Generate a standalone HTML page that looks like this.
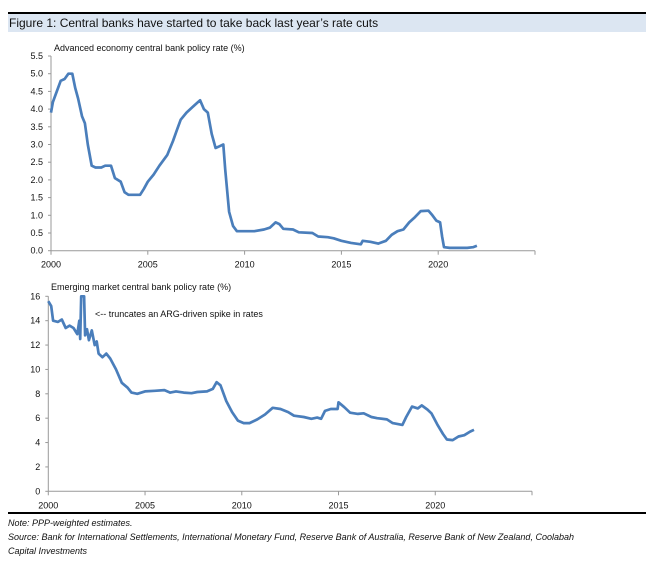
<!DOCTYPE html>
<html><head><meta charset="utf-8"><style>
body{margin:0;background:#fff;width:646px;height:575px;overflow:hidden;font-family:"Liberation Sans",sans-serif}
svg{position:absolute;left:0;top:0}
</style></head><body>
<svg id="c" width="646" height="575">
<line x1="8" y1="13" x2="646" y2="13" stroke="#000" stroke-width="2"/>
<rect x="8" y="14" width="638" height="18" fill="#dce6f2"/>
<text x="9" y="27" font-size="12" fill="#111">Figure 1: Central banks have started to take back last year’s rate cuts</text>
<text x="54" y="51" font-size="9" fill="#111">Advanced economy central bank policy rate (%)</text>
<text x="51" y="290" font-size="9" fill="#111">Emerging market central bank policy rate (%)</text>
<text x="95" y="317" font-size="9" fill="#111">&lt;-- truncates an ARG-driven spike in rates</text>
<line x1="8" y1="513" x2="646" y2="513" stroke="#000" stroke-width="2"/>
<text x="8" y="526" font-size="9" font-style="italic" fill="#111">Note: PPP-weighted estimates.</text>
<text x="8" y="540" font-size="9" font-style="italic" fill="#111">Source: Bank for International Settlements, International Monetary Fund, Reserve Bank of Australia, Reserve Bank of New Zealand, Coolabah</text>
<text x="8" y="554" font-size="9" font-style="italic" fill="#111">Capital Investments</text>
</svg>
<script>
const aeYears=[2000,2000.1,2000.3,2000.5,2000.7,2000.9,2001.1,2001.25,2001.4,2001.6,2001.75,2001.9,2002.1,2002.3,2002.6,2002.8,2003.1,2003.3,2003.6,2003.8,2004,2004.4,2004.6,2004.8,2005,2005.3,2005.6,2006,2006.3,2006.5,2006.7,2007,2007.3,2007.6,2007.7,2007.9,2008.1,2008.3,2008.5,2008.7,2008.9,2009,2009.2,2009.4,2009.6,2010,2010.5,2011,2011.3,2011.6,2011.8,2012,2012.5,2012.8,2013.5,2013.8,2014.3,2014.6,2015,2015.5,2016,2016.1,2016.5,2016.9,2017.3,2017.6,2017.9,2018.2,2018.5,2018.8,2019.1,2019.5,2019.7,2019.9,2020.1,2020.2,2020.3,2020.6,2021.5,2021.8,2022];
const aeValues=[3.9,4.2,4.5,4.8,4.85,5.0,5.0,4.6,4.3,3.8,3.6,3.0,2.4,2.35,2.35,2.4,2.4,2.05,1.95,1.65,1.58,1.58,1.58,1.75,1.95,2.15,2.4,2.7,3.1,3.4,3.7,3.9,4.05,4.2,4.25,4.0,3.9,3.3,2.9,2.95,3.0,2.3,1.1,0.7,0.55,0.55,0.55,0.6,0.65,0.8,0.75,0.62,0.6,0.52,0.5,0.4,0.38,0.35,0.28,0.22,0.18,0.28,0.25,0.2,0.28,0.45,0.55,0.6,0.8,0.95,1.12,1.13,1.0,0.85,0.8,0.4,0.1,0.08,0.08,0.1,0.14];
const emYears=[2000,2000.15,2000.25,2000.5,2000.7,2000.9,2001.1,2001.3,2001.5,2001.6,2001.65,2001.7,2001.85,2001.9,2002,2002.1,2002.25,2002.4,2002.5,2002.6,2002.8,2003,2003.2,2003.5,2003.8,2004.1,2004.3,2004.6,2005,2005.5,2006,2006.3,2006.6,2007,2007.4,2007.7,2008.2,2008.5,2008.7,2008.9,2009.2,2009.5,2009.8,2010.1,2010.4,2010.8,2011.2,2011.6,2012,2012.4,2012.7,2013.2,2013.6,2013.9,2014.1,2014.3,2014.6,2014.95,2015,2015.3,2015.6,2016,2016.3,2016.7,2017,2017.5,2017.8,2018.3,2018.5,2018.8,2019.1,2019.3,2019.6,2019.8,2020.1,2020.4,2020.6,2020.9,2021.2,2021.5,2021.8,2022];
const emValues=[15.6,15.2,14.0,13.9,14.1,13.4,13.6,13.4,12.9,14.0,12.5,16,16,12.8,13.3,12.4,13.2,12.0,12.3,11.3,11.0,11.3,10.9,10.0,8.9,8.5,8.1,8.0,8.2,8.25,8.3,8.1,8.2,8.1,8.05,8.15,8.2,8.4,8.95,8.7,7.4,6.5,5.8,5.6,5.6,5.9,6.3,6.85,6.75,6.5,6.2,6.1,5.95,6.05,5.95,6.6,6.75,6.75,7.3,6.9,6.45,6.35,6.4,6.1,6.0,5.9,5.6,5.45,6.1,6.95,6.8,7.05,6.7,6.4,5.5,4.7,4.25,4.2,4.5,4.6,4.9,5.05];
const xTicks=[2000,2005,2010,2015,2020];
const aeTicks=["0.0","0.5","1.0","1.5","2.0","2.5","3.0","3.5","4.0","4.5","5.0","5.5"];
const emTicks=["0","2","4","6","8","10","12","14","16"];
const NS="http://www.w3.org/2000/svg",svg=document.getElementById('c');
function mk(t,a,p){const e=document.createElementNS(NS,t);for(const k in a)e.setAttribute(k,a[k]);(p||svg).appendChild(e);return e;}
function chart(o){
  const xs=y=>o.x0+(y-2000)/25*(o.x1-o.x0);
  const ys=v=>o.y0-(v/o.max)*(o.y0-o.y1);
  const g=mk('g',{});
  
  
  const ya=mk('line',{x1:o.x0,y1:o.y0,x2:o.x0,y2:o.y1,stroke:'#999','stroke-width':1},g);
  
  const xa=mk('line',{x1:o.x0,y1:o.y0,x2:o.x1,y2:o.y0,stroke:'#999','stroke-width':1},g);
  
  o.ticks.forEach(t=>{const v=parseFloat(t),y=ys(v);
    mk('line',{x1:o.x0-3,y1:y,x2:o.x0,y2:y,stroke:'#999'},g);
    const tx=mk('text',{x:o.x0-8,y:y+3,'font-size':9,'text-anchor':'end',fill:'#111'},g);tx.textContent=t;
    });
  xTicks.concat([2025]).forEach(yr=>{const x=xs(yr);mk('line',{x1:x,y1:o.y0,x2:x,y2:o.y0+4,stroke:'#999'},g);});
  xTicks.forEach(yr=>{const tx=mk('text',{x:xs(yr),y:o.y0+17,'font-size':9,'text-anchor':'middle',fill:'#111'},g);tx.textContent=yr;
    });
  const d=o.yrs.map((yr,i)=>(i?'L':'M')+xs(yr).toFixed(1)+','+ys(o.vals[i]).toFixed(1)).join('');
  const p=mk('path',{d:d,fill:'none',stroke:'#4a7ebb','stroke-width':2.7,'stroke-linejoin':'round'},g);
  
}
chart({name:'ae-chart',x0:51,x1:535,y0:250.7,y1:56,max:5.5,ticks:aeTicks,yrs:aeYears,vals:aeValues});
chart({name:'em-chart',x0:48.3,x1:532,y0:491.3,y1:296.3,max:16,ticks:emTicks,yrs:emYears,vals:emValues});
</script>
</body></html>
